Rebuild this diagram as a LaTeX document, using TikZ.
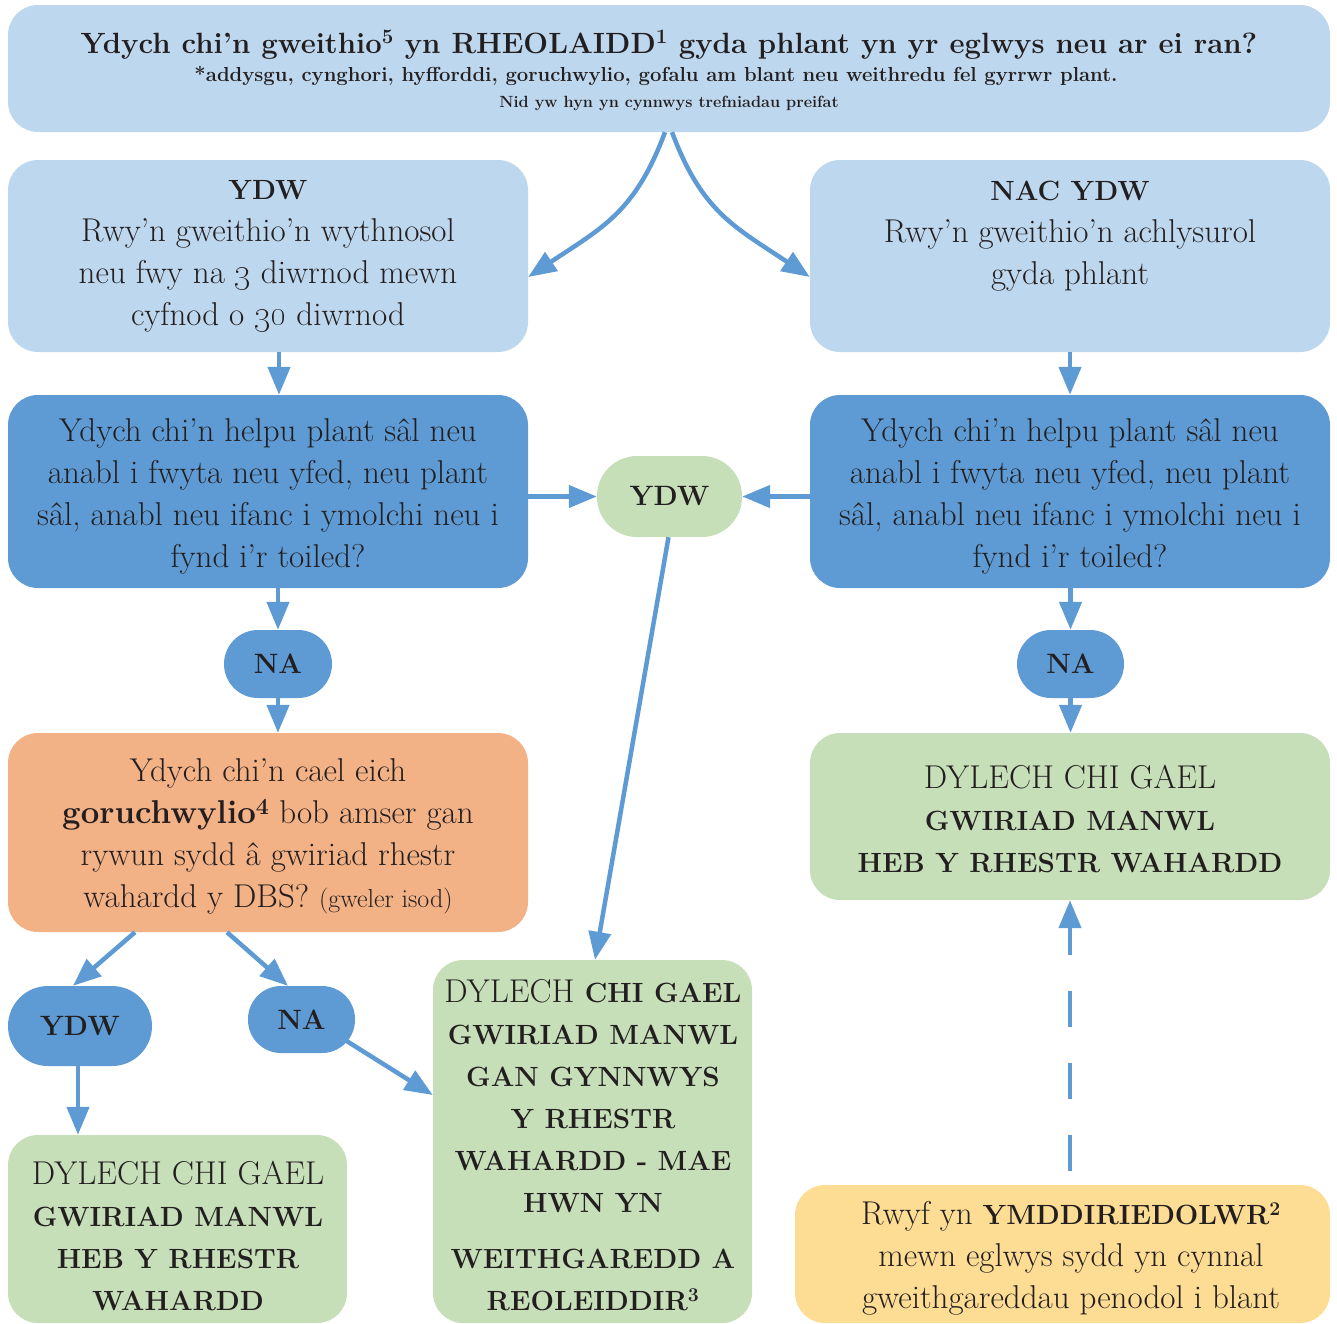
\documentclass[tikz,border=0pt]{standalone}
\usetikzlibrary{arrows.meta}
\definecolor{lblue}{HTML}{BDD7EE}
\definecolor{mblue}{HTML}{5E9BD4}
\definecolor{lgreen}{HTML}{C6DFB8}
\definecolor{lorange}{HTML}{F3B186}
\definecolor{lyellow}{HTML}{FDDC94}
\definecolor{ink}{HTML}{231F20}
\newcommand{\bodyfont}{\fontsize{33}{42}\selectfont}
\newcommand{\capbold}{\fontsize{27.8}{42}\selectfont\bfseries}
\newcommand{\capreg}{\fontsize{33}{42}\selectfont\mdseries}
\begin{document}
\begin{tikzpicture}[x=1pt,y=-1pt,
  box/.style={rounded corners=30pt, inner sep=0pt, draw=none},
  pill/.style={inner sep=0pt, draw=none, text=ink, font=\fontsize{28}{32}\selectfont\bfseries},
  txt/.style={text=ink, align=center, inner sep=0pt},
  arr/.style={draw=mblue, line width=4.5pt, -{Triangle[length=28pt,width=22pt]}}]
\useasboundingbox (0,0) rectangle (1337,1323);
% boxes
\node[box, fill=lblue, minimum width=1322pt, minimum height=127pt] (top) at (669,68.5) {};
\node[box, fill=lblue, minimum width=520pt, minimum height=192pt] (ydwL) at (268,256) {};
\node[box, fill=lblue, minimum width=520pt, minimum height=192pt] (nacR) at (1070,256) {};
\node[box, fill=mblue, minimum width=520pt, minimum height=193pt] (qL) at (268,491.5) {};
\node[box, fill=mblue, minimum width=520pt, minimum height=193pt] (qR) at (1070,491.5) {};
\node[box, fill=lorange, minimum width=520pt, minimum height=199pt] (orng) at (268,832.5) {};
\node[box, fill=lgreen, minimum width=520pt, minimum height=167pt] (grR) at (1070,816.5) {};
\node[box, fill=lgreen, minimum width=319pt, minimum height=363pt] (ctrG) at (592.5,1141.5) {};
\node[box, fill=lgreen, minimum width=339pt, minimum height=188pt] (grBL) at (177.5,1229) {};
\node[box, fill=lyellow, minimum width=535pt, minimum height=138pt] (yel) at (1062.5,1254) {};
% pills
\node[pill, fill=lgreen, rounded corners=40pt, minimum width=145pt, minimum height=81pt] (ydwG) at (669.5,496.5) {YDW};
\node[pill, fill=mblue, rounded corners=34pt, minimum width=108pt, minimum height=68pt] (naL) at (278,664) {NA};
\node[pill, fill=mblue, rounded corners=34pt, minimum width=107pt, minimum height=68pt] (naR) at (1070.5,664) {NA};
\node[pill, fill=mblue, rounded corners=40pt, minimum width=144pt, minimum height=80pt] (ydwB) at (80,1026) {YDW};
\node[pill, fill=mblue, rounded corners=33pt, minimum width=107pt, minimum height=67pt] (naB) at (301.5,1019.5) {NA};
% texts
\node[txt, anchor=base, font=\fontsize{29.3}{32}\selectfont\bfseries] (h1) at (669,53) {Ydych chi’n gweithio\textsuperscript{5} yn RHEOLAIDD\textsuperscript{1} gyda phlant yn yr eglwys neu ar ei ran?};
\node[txt, anchor=base, font=\fontsize{20.3}{22}\selectfont\bfseries] (h2) at (656,81) {*addysgu, cynghori, hyfforddi, goruchwylio, gofalu am blant neu weithredu fel gyrrwr plant.};
\node[txt, anchor=base, font=\fontsize{16.2}{18}\selectfont\bfseries] (h3) at (669,107) {Nid yw hyn yn cynnwys trefniadau preifat};
\node[txt, font=\bodyfont] (tydwL) at (268,256) {{\capbold YDW}\\Rwy’n gweithio’n wythnosol\\neu fwy na \oldstylenums{3} diwrnod mewn\\cyfnod o \oldstylenums{30} diwrnod};
\node[txt, font=\bodyfont] (tnacR) at (1070,236.5) {{\capbold NAC YDW}\\Rwy’n gweithio’n achlysurol\\gyda phlant};
\node[txt, font=\bodyfont] (tqL) at (268,496) {Ydych chi’n helpu plant sâl neu\\anabl i fwyta neu yfed, neu plant\\sâl, anabl neu ifanc i ymolchi neu i\\fynd i’r toiled?};
\node[txt, font=\bodyfont] (tqR) at (1070,496) {Ydych chi’n helpu plant sâl neu\\anabl i fwyta neu yfed, neu plant\\sâl, anabl neu ifanc i ymolchi neu i\\fynd i’r toiled?};
\node[txt, font=\bodyfont] (torng) at (268,836.5) {Ydych chi’n cael eich\\{\bfseries goruchwylio\textsuperscript{4}} bob amser gan\\rywun sydd â gwiriad rhestr\\wahardd y DBS? {\fontsize{26}{42}\selectfont (gweler isod)}};
\node[txt, font=\capreg] (tgrR) at (1070,818.5) {DYLECH CHI GAEL\\{\capbold GWIRIAD MANWL}\\{\capbold HEB Y RHESTR WAHARDD}};
\node[txt, font=\capbold] (tctrG) at (593,1145) {{\capreg DYLECH} CHI GAEL\\GWIRIAD MANWL\\GAN GYNNWYS\\Y RHESTR\\WAHARDD - MAE\\HWN YN\\[14pt]WEITHGAREDD A\\REOLEIDDIR\textsuperscript{3}};
\node[txt, font=\capreg] (tgrBL) at (178,1236) {DYLECH CHI GAEL\\{\capbold GWIRIAD MANWL}\\{\capbold HEB Y RHESTR}\\{\capbold WAHARDD}};
\node[txt, font=\bodyfont] (tyel) at (1071,1258) {Rwyf yn {\capbold YMDDIRIEDOLWR\textsuperscript{2}}\\mewn eglwys sydd yn cynnal\\gweithgareddau penodol i blant};
% connectors
\draw[arr] ([xshift=-4pt]top.south) .. controls +(-30,80) and +(75,-50) .. ([yshift=-21pt]ydwL.east);
\draw[arr] ([xshift=3pt]top.south) .. controls +(30,80) and +(-75,-50) .. ([yshift=-21pt]nacR.west);
\draw[arr] ([xshift=11pt]ydwL.south) -- ([xshift=11pt]qL.north);
\draw[arr] (nacR.south) -- (qR.north);
\draw[arr] (qL.east |- ydwG.west) -- (ydwG.west);
\draw[arr] (qR.west |- ydwG.east) -- (ydwG.east);
\draw[arr] (qL.south -| naL.north) -- (naL.north);
\draw[arr] (qR.south -| naR.north) -- (naR.north);
\draw[arr] (naL.south) -- (naL.south |- orng.north);
\draw[arr] (naR.south) -- (naR.south |- grR.north);
\draw[arr] ([xshift=-1pt]ydwG.south) -- ([xshift=2.5pt]ctrG.north);
\draw[arr] ([xshift=-133pt]orng.south) -- ([xshift=-7pt]ydwB.north);
\draw[arr] ([xshift=-41pt]orng.south) -- ([xshift=-13.5pt]naB.north);
\draw[arr] ([xshift=43.5pt,yshift=-20.5pt]naB.center) -- ([yshift=46.5pt]ctrG.west);
\draw[arr] ([xshift=-2pt]ydwB.south) -- ([xshift=-2pt]ydwB.south |- grBL.north);
\path (grR.south |- yel.north) ++(0pt,14pt) coordinate (dstart);
\draw[arr, dash pattern=on 36pt off 36pt] (dstart) -- (grR.south);
\end{tikzpicture}
\end{document}
